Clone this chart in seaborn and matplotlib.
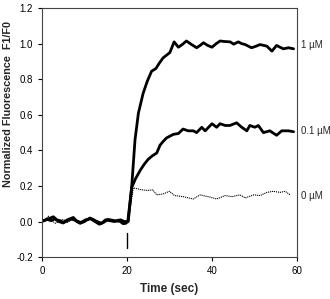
import matplotlib
matplotlib.use("Agg")
import matplotlib.pyplot as plt
import seaborn as sns

# 1 uM trace
t_1um = [0, 1, 2, 2.7, 3.5, 4.3, 5, 6, 7.4, 8.2, 9, 10, 11.3, 12.5, 14, 15, 16, 17, 18, 19.1, 19.7,
         20.2, 21.1, 21.9, 22.7, 23.8, 24.8, 25.8, 26.8, 27.6, 28.5, 29.3, 30.1, 31.1, 32.1, 33, 34,
         35.2, 36.4, 37.2, 38, 39, 40, 41, 41.9, 43, 44.3, 45.1, 46.2, 47, 47.8, 49.3, 50.3, 51.3,
         52.9, 54.1, 55.2, 56, 56.8, 58, 59.2]
v_1um = [0.004, 0.01, 0.02, 0.027, 0.01, 0.005, -0.005, 0.01, 0.023, 0.0, -0.01, 0.0, 0.02, 0.005,
         -0.01, 0.01, 0.005, 0.0, 0.008, -0.012, -0.01,
         0.0, 0.19, 0.46, 0.61, 0.72, 0.79, 0.845, 0.86, 0.89, 0.92, 0.935, 0.95, 1.01, 0.98, 0.995,
         1.015, 0.995, 0.977, 0.99, 1.005, 0.99, 0.98, 1.0, 1.015, 1.012, 1.01, 0.997, 1.01, 1.0,
         0.995, 0.977, 0.985, 0.995, 0.986, 0.958, 0.99, 0.98, 0.971, 0.977, 0.971]

# 0.1 uM trace
t_01um = [0, 1.2, 2.2, 3, 4, 5, 6.2, 7, 8, 9.2, 10.3, 11.5, 12.5, 13.5, 14.5, 15.5, 16.5, 17.5,
          18.5, 19.4, 20.3, 21.1, 22, 23.1, 24, 25, 26, 27, 27.8, 28.5, 29.3, 30.1, 30.9, 32.1,
          33.2, 34.4, 35.6, 36.4, 37.6, 38.4, 40, 41.1, 41.9, 43.1, 44.2, 45.8, 47, 48.2, 48.9,
          50.1, 50.9, 52.1, 53.6, 55.2, 56.4, 58, 59.2]
v_01um = [0.0, 0.012, 0.005, 0.015, 0.0, -0.008, 0.008, 0.015, 0.005, -0.005, 0.01, 0.015, 0.0,
          -0.015, -0.005, 0.012, 0.008, 0.002, 0.01, 0.0, 0.0, 0.19, 0.24, 0.287, 0.32, 0.35,
          0.37, 0.385, 0.43, 0.45, 0.47, 0.48, 0.49, 0.495, 0.52, 0.51, 0.51, 0.5, 0.53, 0.51,
          0.55, 0.53, 0.55, 0.54, 0.54, 0.555, 0.53, 0.51, 0.54, 0.53, 0.54, 0.5, 0.51, 0.485,
          0.51, 0.51, 0.505]

# 0 uM trace
t_0um = [0, 0.8, 1.5, 2.3, 3.2, 4, 5, 6, 7, 8, 9, 10, 11, 12, 13, 14, 15, 16, 17, 18, 19, 20.3,
         21.5, 23.1, 24.6, 26.1, 27, 28.5, 30, 31.2, 33.2, 35.6, 37.2, 39.1, 41.1, 43.1, 44.7,
         46.6, 47.8, 49.8, 51.3, 52.9, 54.4, 56, 57.2, 58.4]
v_0um = [0.0, 0.01, 0.03, 0.005, -0.01, 0.0, 0.012, -0.005, 0.008, 0.015, -0.008, 0.0, 0.01,
         0.02, 0.0, -0.012, 0.005, 0.0, 0.01, -0.005, 0.005, 0.0,
         0.19, 0.18, 0.175, 0.178, 0.15, 0.155, 0.17, 0.146, 0.14, 0.127, 0.15, 0.14, 0.127,
         0.146, 0.14, 0.15, 0.133, 0.15, 0.146, 0.164, 0.17, 0.164, 0.17, 0.15]

labels = ["1 µM", "0.1 µM", "0 µM"]
label_y = [0.995, 0.51, 0.145]

sns.set_style("ticks")
plt.rcParams["font.family"] = ["Liberation Sans Narrow", "Liberation Sans", "DejaVu Sans"]

fig = plt.figure(figsize=(3.3, 2.99), dpi=100)
ax = fig.add_axes([0.127, 0.14, 0.773, 0.833])

sns.lineplot(x=t_1um, y=v_1um, ax=ax, color="black", linewidth=2.0, sort=False)
sns.lineplot(x=t_01um, y=v_01um, ax=ax, color="black", linewidth=2.0, sort=False)
sns.lineplot(x=t_0um, y=v_0um, ax=ax, color="black", linewidth=0.8, linestyle=(0, (1, 0.8)), sort=False)

# stimulus marker
ax.plot([20, 20], [-0.065, -0.147], color="black", linewidth=1.0)

for lab, yv in zip(labels, label_y):
    ax.text(61, yv, lab, fontsize=7, va="center", ha="left")

ax.set_xlim(0, 60)
ax.set_ylim(-0.2, 1.2)
ax.set_xticks([0, 20, 40, 60])
ax.set_yticks([-0.2, 0.0, 0.2, 0.4, 0.6, 0.8, 1.0, 1.2])
ax.set_yticklabels(["-0.2", "0.0", "0.2", "0.4", "0.6", "0.8", "1.0", "1.2"])
ax.tick_params(labelsize=7, length=3, width=0.8, colors="black")
for s in ax.spines.values():
    s.set_linewidth(0.8)
    s.set_color("#444444")

ax.set_xlabel("Time (sec)", fontsize=8.5, fontweight="bold", family=["Liberation Sans", "DejaVu Sans"])
ax.set_ylabel("Normalized Fluorescence  F1/F0", fontsize=7.8, fontweight="bold",
              family=["Liberation Sans", "DejaVu Sans"])
ax.xaxis.set_label_coords(0.5, -0.105)
ax.yaxis.set_label_coords(-0.115, 0.615)

plt.savefig("out.png", dpi=100)
